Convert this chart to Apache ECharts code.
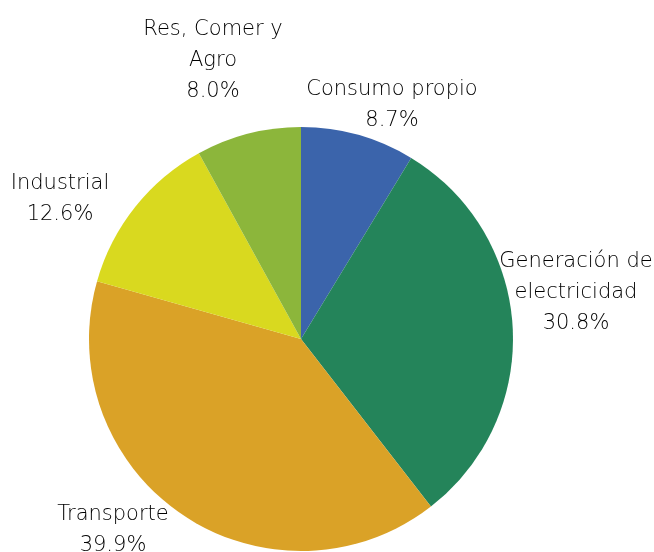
<!DOCTYPE html>
<html>
<head>
<meta charset="utf-8">
<script src="https://cdn.jsdelivr.net/npm/echarts@6/dist/echarts.min.js"></script>
<style>
  html, body { margin: 0; padding: 0; background: #fff; }
  #main { width: 654px; height: 552px; }
</style>
</head>
<body>
<div id="main"></div>
<script>
// data
const categories = ['Consumo propio', 'Generación de\nelectricidad', 'Transporte', 'Industrial', 'Res, Comer y\nAgro'];
const shares = [8.7, 30.8, 39.9, 12.6, 8.0];
const colors = ['#3b64ab', '#24845a', '#daa227', '#d9d91f', '#8cb63b'];

// where each label sits (centre of the text block)
const labelSpots = [[392, 105], [576, 293], [113, 530], [60, 199], [213, 61]];

let myChart = echarts.init(document.getElementById('main'));

let option = {
  animation: false,
  series: [{
    type: 'pie',
    center: [301, 339],
    radius: 212,
    startAngle: 90,
    clockwise: true,
    label: {
      show: true,
      fontFamily: 'DejaVu Sans',
      fontWeight: 200,
      fontSize: 21,
      lineHeight: 31,
      color: '#000',
      align: 'center',
      overflow: 'none',
      width: 220
    },
    labelLine: { show: false },
    labelLayout: function (params) {
      let p = labelSpots[params.dataIndex];
      return { x: p[0], y: p[1], align: 'center', verticalAlign: 'middle' };
    },
    emphasis: { disabled: true },
    data: categories.map((c, i) => ({
      name: c,
      value: shares[i],
      itemStyle: { color: colors[i] },
      label: { formatter: c + '\n' + shares[i].toFixed(1) + '%' }
    }))
  }]
};
myChart.setOption(option);
</script>
</body>
</html>
